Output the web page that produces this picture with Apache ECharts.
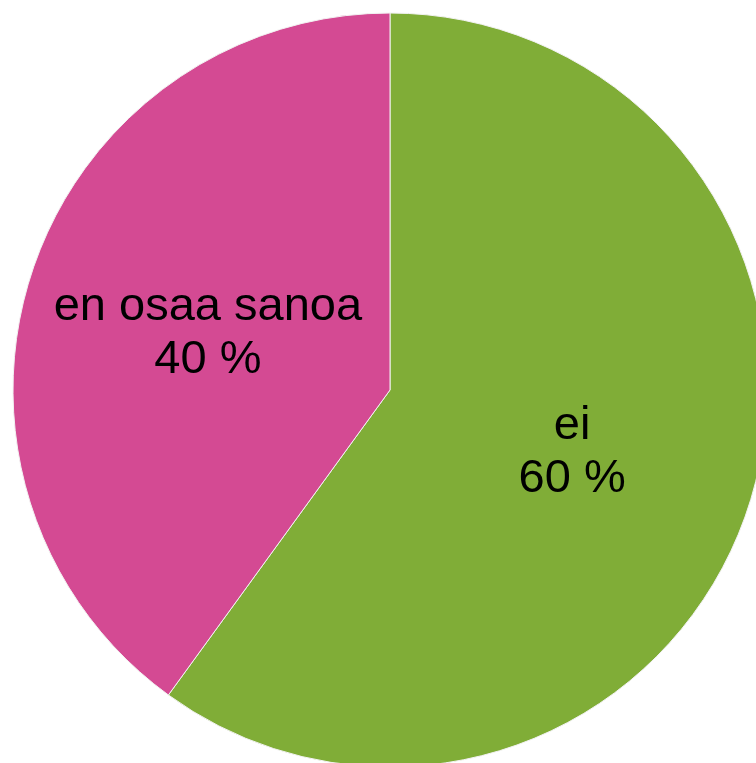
<!DOCTYPE html>
<html>
<head>
<meta charset="utf-8">
<script src="https://cdn.jsdelivr.net/npm/echarts@6/dist/echarts.min.js"></script>
<style>
html,body{margin:0;padding:0;background:#fff;}
#c{width:756px;height:763px;}
</style>
</head>
<body>
<div id="c"></div>
<script>
const categories = ['ei', 'en osaa sanoa'];
const values = [60, 40];
const colors = ['#80AD37', '#D44A93'];

const chart = echarts.init(document.getElementById('c'), null, {renderer: 'canvas'});
chart.setOption({
  animation: false,
  backgroundColor: '#ffffff',
  series: [{
    type: 'pie',
    center: [390, 390],
    radius: [0, 377],
    startAngle: 90,
    clockwise: true,
    data: categories.map((n, i) => ({name: n, value: values[i], itemStyle: {color: colors[i]}})),
    itemStyle: {borderColor: '#f2f2f2', borderWidth: 1},
    label: {
      show: true,
      position: 'inside',
      formatter: p => p.name + '\n' + p.value + ' %',
      color: '#000',
      fontFamily: 'Liberation Sans, Arial, sans-serif',
      fontSize: 47,
      lineHeight: 53,
      align: 'center',
      offset: [0, 3]
    },
    labelLine: {show: false},
    emphasis: {disabled: true}
  }]
});
</script>
</body>
</html>
